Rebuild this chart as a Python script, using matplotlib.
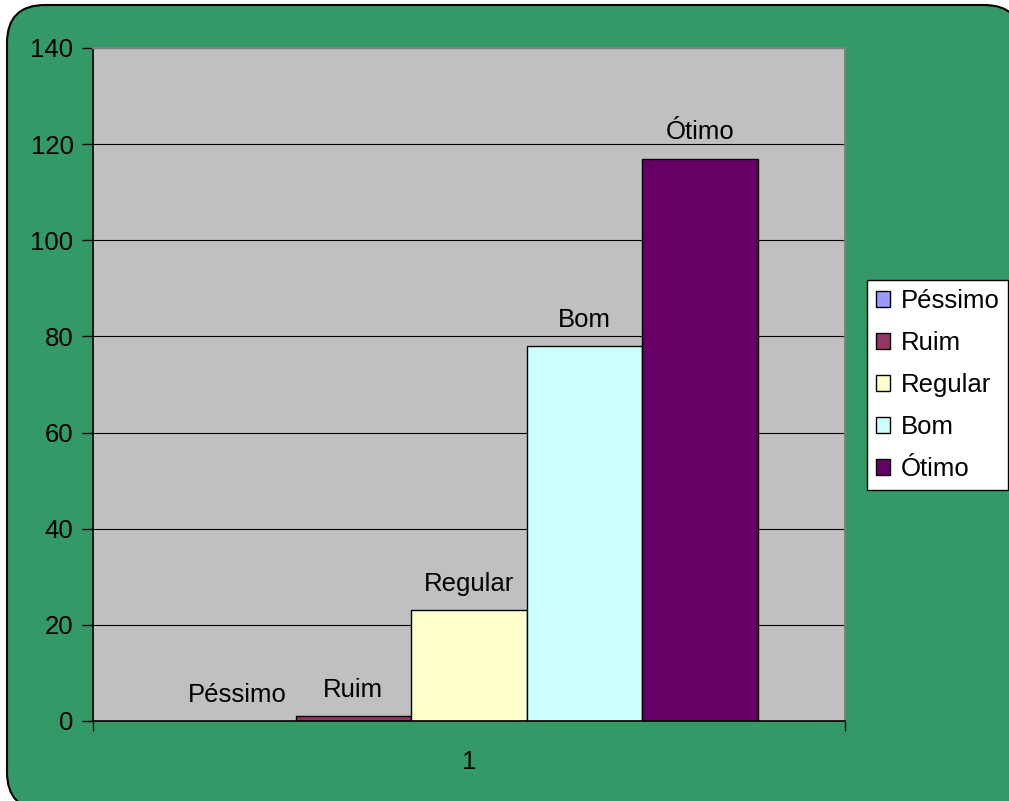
import matplotlib
matplotlib.use("Agg")
import matplotlib.pyplot as plt
from matplotlib.patches import FancyBboxPatch, Patch

categories = ["Péssimo", "Ruim", "Regular", "Bom", "Ótimo"]
values = [0, 1, 23, 78, 117]
colors = ["#9999FF", "#993366", "#FFFFCC", "#CCFFFF", "#660066"]
x_tick_labels = ["1"]
y_ticks = [0, 20, 40, 60, 80, 100, 120, 140]

plt.rcParams['font.family'] = ['Liberation Sans', 'DejaVu Sans']
FS = 18.5

W, H = 1009, 801
fig = plt.figure(figsize=(W / 100, H / 100), dpi=100)
fig.patch.set_facecolor("white")

# rounded green chart area (extends past the right/bottom edges)
bx0, by0, bx1, by1 = 7, 5, 1022, 810  # pixel box, top-left origin
bg = FancyBboxPatch((bx0 / W, 1 - by1 / H), (bx1 - bx0) / W, (by1 - by0) / H,
                    boxstyle="round,pad=0,rounding_size=%f" % (38 / W),
                    transform=fig.transFigure, facecolor="#339966",
                    edgecolor="black", linewidth=1.5, mutation_aspect=W / H,
                    zorder=-10)
fig.patches.append(bg)

ax = fig.add_axes([93 / W, 1 - 721 / H, (845 - 93) / W, (721 - 48) / H])
ax.set_zorder(1)
ax.set_facecolor("#C0C0C0")

bar_w = 115.5 / 752
start = 87 / 752
for i, (cat, v, c) in enumerate(zip(categories, values, colors)):
    x0 = start + i * bar_w
    ax.bar(x0, v, width=bar_w, align="edge", color=c, edgecolor="black",
           linewidth=1.0 if v > 0 else 0, zorder=3, label=cat)
    ax.text(x0 + bar_w / 2, v + 3, cat, ha="center", va="bottom",
            fontsize=FS, color="black", zorder=4)

ax.set_xlim(0, 1)
ax.set_ylim(0, 140)
ax.set_yticks(y_ticks)
ax.set_yticklabels([str(t) for t in y_ticks], fontsize=FS)
ax.yaxis.grid(True, color="black", linewidth=0.8, zorder=1)
ax.set_axisbelow(True)

ax.set_xticks([0, 1])
ax.set_xticklabels(["", ""])
ax.tick_params(axis="x", direction="out", length=7, width=1, color="black")
ax.tick_params(axis="y", direction="out", length=8, width=1, color="black", pad=6)
ax.text(0.5, -41 / 673, x_tick_labels[0], transform=ax.transAxes,
        ha="center", va="center", fontsize=FS)

for s in ["top", "right"]:
    ax.spines[s].set_color("#808080")
    ax.spines[s].set_linewidth(1.5)
for s in ["left", "bottom"]:
    ax.spines[s].set_color("black")
    ax.spines[s].set_linewidth(1.2)
ax.spines["bottom"].set_zorder(5)

handles = [Patch(facecolor=c, edgecolor="black", linewidth=1.0) for c in colors]
leg = fig.legend(handles, categories, loc="upper left",
                 bbox_to_anchor=(867 / W, 1 - 280 / H), fontsize=FS,
                 frameon=True, fancybox=False, framealpha=1,
                 handlelength=0.55, handleheight=0.55, handletextpad=0.4,
                 labelspacing=0.70, borderpad=0.35, borderaxespad=0)
leg.get_frame().set_edgecolor("black")
leg.get_frame().set_linewidth(1.0)
leg.get_frame().set_facecolor("white")

fig.savefig("out.png", dpi=100, facecolor="white")
